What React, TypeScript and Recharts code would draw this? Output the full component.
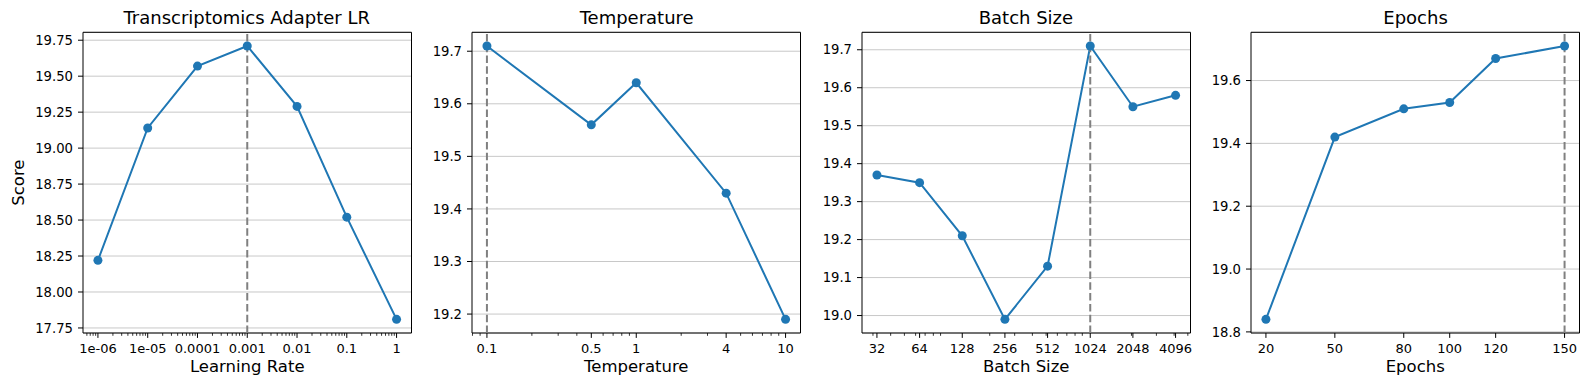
import React from 'react';
import {
    LineChart,
    Line,
    XAxis,
    YAxis,
    CartesianGrid,
    ReferenceLine,
    ReferenceArea,
} from 'recharts';

// Transcriptomics adapter learning rate sweep
const lrValues = [1e-6, 1e-5, 1e-4, 1e-3, 1e-2, 1e-1, 1];
const lrScores = [18.22, 19.14, 19.57, 19.71, 19.29, 18.52, 17.81];
const lrTickLabels = ['1e-06', '1e-05', '0.0001', '0.001', '0.01', '0.1', '1'];
const lrYTicks = [17.75, 18.0, 18.25, 18.5, 18.75, 19.0, 19.25, 19.5, 19.75];

// Temperature sweep
const tempValues = [0.1, 0.5, 1, 4, 10];
const tempScores = [19.71, 19.56, 19.64, 19.43, 19.19];
const tempTickLabels = ['0.1', '0.5', '1', '4', '10'];
const tempYTicks = [19.2, 19.3, 19.4, 19.5, 19.6, 19.7];

// Batch size sweep
const batchValues = [32, 64, 128, 256, 512, 1024, 2048, 4096];
const batchScores = [19.37, 19.35, 19.21, 18.99, 19.13, 19.71, 19.55, 19.58];
const batchTickLabels = ['32', '64', '128', '256', '512', '1024', '2048', '4096'];
const batchYTicks = [19.0, 19.1, 19.2, 19.3, 19.4, 19.5, 19.6, 19.7];

// Epochs sweep
const epochValues = [20, 50, 80, 100, 120, 150];
const epochScores = [18.84, 19.42, 19.51, 19.53, 19.67, 19.71];
const epochTickLabels = ['20', '50', '80', '100', '120', '150'];
const epochYTicks = [18.8, 19.0, 19.2, 19.4, 19.6];

const BLUE = '#1f77b4';
const FONT = '"DejaVu Sans", sans-serif';
const PLOT_W = 328.5;
const PLOT_TOP = 32.3;
const YAXIS_W = 80;

// matplotlib style 5% margins
function padLinear(vals: number[]): [number, number] {
    const lo = Math.min(...vals), hi = Math.max(...vals);
    const m = (hi - lo) * 0.05;
    return [lo - m, hi + m];
}

function padLog(vals: number[]): [number, number] {
    const lo = Math.log10(Math.min(...vals)), hi = Math.log10(Math.max(...vals));
    const m = (hi - lo) * 0.05;
    return [Math.pow(10, lo - m), Math.pow(10, hi + m)];
}

function minorLogTicks(domain: [number, number]): number[] {
    const out: number[] = [];
    for (let k = Math.floor(Math.log10(domain[0])); k <= Math.ceil(Math.log10(domain[1])); k++) {
        for (let m = 2; m <= 9; m++) {
            const v = m * Math.pow(10, k);
            if (v >= domain[0] && v <= domain[1]) out.push(v);
        }
    }
    return out;
}

interface PanelProps {
    title: string;
    xLabel: string;
    yLabel?: string;
    xs: number[];
    scores: number[];
    tickValues: number[];
    tickLabels: string[];
    yTicks: number[];
    yDecimals: number;
    best: number;
    log: boolean;
    left: number;
}

function Panel({ title, xLabel, yLabel, xs, scores, tickValues, tickLabels, yTicks, yDecimals, best, log, left }: PanelProps) {
    const data = xs.map((x, i) => ({ x, score: scores[i] }));
    const xDomain = log ? padLog(xs) : padLinear(xs);
    const yDomain = padLinear(scores);
    const minor = log ? minorLogTicks(xDomain).filter((v) => !tickValues.some((t) => Math.abs(t - v) / v < 1e-6)) : [];
    const allTicks = [...tickValues, ...minor];

    const renderTick = (props: any) => {
        const { x, y, payload } = props;
        const idx = tickValues.findIndex((t) => Math.abs(t - payload.value) / Math.abs(t) < 1e-6);
        if (idx < 0) {
            return <line x1={x} x2={x} y1={y} y2={y + 2.8} stroke="#000" strokeWidth={0.8} />;
        }
        return (
            <g>
                <line x1={x} x2={x} y1={y} y2={y + 4.9} stroke="#000" strokeWidth={1} />
                <text x={x} y={y + 20} textAnchor="middle" fontSize={13} fontFamily={FONT} fill="#000">
                    {tickLabels[idx]}
                </text>
            </g>
        );
    };

    const chartLeft = left - YAXIS_W;
    return (
        <div style={{ position: 'absolute', left: chartLeft, top: 0 }}>
            <div
                style={{
                    position: 'absolute',
                    left: YAXIS_W,
                    width: PLOT_W,
                    top: 6.8,
                    textAlign: 'center',
                    fontFamily: FONT,
                    fontSize: 18,
                    lineHeight: '22px',
                    color: '#000',
                    whiteSpace: 'nowrap',
                }}
            >
                {title}
            </div>
            <LineChart
                width={YAXIS_W + PLOT_W + 8}
                height={390}
                data={data}
                margin={{ top: PLOT_TOP, right: 8, bottom: 0, left: 0 }}
            >
                <CartesianGrid vertical={false} stroke="#b0b0b0" strokeOpacity={0.7} strokeWidth={1} />
                <XAxis
                    dataKey="x"
                    type="number"
                    scale={log ? 'log' : 'linear'}
                    domain={xDomain}
                    allowDataOverflow
                    ticks={allTicks}
                    interval={0}
                    tick={renderTick}
                    tickLine={false}
                    tickSize={0}
                    tickMargin={0}
                    axisLine={false}
                    height={57}
                    label={{ value: xLabel, position: 'insideBottom', offset: 18, fontSize: 16.5, fontFamily: FONT, fill: '#000' }}
                />
                <YAxis
                    type="number"
                    domain={yDomain}
                    allowDataOverflow
                    ticks={yTicks}
                    interval={0}
                    width={YAXIS_W}
                    axisLine={false}
                    tickSize={5}
                    tickMargin={5}
                    tickLine={{ stroke: '#000' }}
                    tick={{ fontSize: 13.2, fontFamily: FONT, fill: '#000' }}
                    tickFormatter={(v: number) => v.toFixed(yDecimals)}
                    label={
                        yLabel
                            ? {
                                  value: yLabel,
                                  angle: -90,
                                  position: 'insideLeft',
                                  offset: 18 - chartLeft,
                                  fontSize: 16.5,
                                  fontFamily: FONT,
                                  fill: '#000',
                                  style: { textAnchor: 'middle' },
                              }
                            : undefined
                    }
                />
                <Line
                    dataKey="score"
                    stroke={BLUE}
                    strokeWidth={2}
                    dot={{ r: 4.5, fill: BLUE, stroke: BLUE, strokeWidth: 0 }}
                    activeDot={false}
                    isAnimationActive={false}
                />
                <ReferenceLine x={best} stroke="#808080" strokeWidth={2} strokeDasharray="7.5 3.3" />
                <ReferenceArea
                    x1={xDomain[0]}
                    x2={xDomain[1]}
                    y1={yDomain[0]}
                    y2={yDomain[1]}
                    fill="none"
                    stroke="#000"
                    strokeWidth={1}
                    ifOverflow="visible"
                />
            </LineChart>
        </div>
    );
}

export default function App() {
    return (
        <div style={{ position: 'absolute', left: 0, top: 0, width: 1589, height: 390, background: '#fff' }}>
            <Panel
                title="Transcriptomics Adapter LR"
                xLabel="Learning Rate"
                yLabel="Score"
                xs={lrValues}
                scores={lrScores}
                tickValues={lrValues}
                tickLabels={lrTickLabels}
                yTicks={lrYTicks}
                yDecimals={2}
                best={1e-3}
                log
                left={82.5}
            />
            <Panel
                title="Temperature"
                xLabel="Temperature"
                xs={tempValues}
                scores={tempScores}
                tickValues={tempValues}
                tickLabels={tempTickLabels}
                yTicks={tempYTicks}
                yDecimals={1}
                best={0.1}
                log
                left={472.4}
            />
            <Panel
                title="Batch Size"
                xLabel="Batch Size"
                xs={batchValues}
                scores={batchScores}
                tickValues={batchValues}
                tickLabels={batchTickLabels}
                yTicks={batchYTicks}
                yDecimals={1}
                best={1024}
                log
                left={861.7}
            />
            <Panel
                title="Epochs"
                xLabel="Epochs"
                xs={epochValues}
                scores={epochScores}
                tickValues={epochValues}
                tickLabels={epochTickLabels}
                yTicks={epochYTicks}
                yDecimals={1}
                best={150}
                log={false}
                left={1251.3}
            />
        </div>
    );
}
